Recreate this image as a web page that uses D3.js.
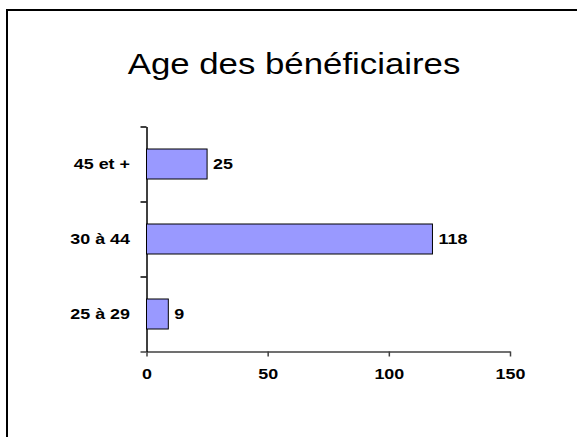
<!DOCTYPE html>
<html>
<head>
<meta charset="utf-8">
<script src="https://cdn.jsdelivr.net/npm/d3@7"></script>
<style>
  body { margin: 0; background: #fff; }
  text { font-family: "Liberation Sans", Arial, sans-serif; }
</style>
</head>
<body>
<div id="chart"></div>
<script>
var categories = ["45 et +", "30 à 44", "25 à 29"];
var values = [25, 118, 9];
var xTicks = [0, 50, 100, 150];
var title = "Age des bénéficiaires";

var margin = { left: 146.5, right: 67, top: 126.5, bottom: 85.5 };
var width = 577 - margin.left - margin.right;
var height = 437 - margin.top - margin.bottom;
var stretch = 1.2;
var labelStretch = 1.28;

var svg = d3.select("#chart")
  .append("svg")
  .attr("width", 577)
  .attr("height", 437);

svg.append("rect")
  .attr("width", 577)
  .attr("height", 437)
  .attr("fill", "#fff");

// outer frame, runs off the right and bottom edges
svg.append("rect")
  .attr("x", 7)
  .attr("y", 10)
  .attr("width", 620)
  .attr("height", 480)
  .attr("fill", "none")
  .attr("stroke", "#000")
  .attr("stroke-width", 2);

svg.append("text")
  .attr("text-anchor", "middle")
  .attr("font-size", "29px")
  .attr("transform", "translate(294, 74) scale(" + stretch + ", 1)")
  .text(title);

var g = svg.append("g")
  .attr("transform", "translate(" + margin.left + ", " + margin.top + ")");

var x = d3.scaleLinear()
  .domain([0, 150])
  .range([0, width]);

var y = d3.scaleBand()
  .domain(categories)
  .range([0, height])
  .paddingInner(0.6)
  .paddingOuter(0.3);

// ticks between categories
var yEdges = d3.scaleLinear()
  .domain([0, categories.length])
  .range([0, height]);

// X-Axis
var xAxis = g.append("g")
  .attr("transform", "translate(0, " + height + ")")
  .call(d3.axisBottom(x).tickValues(xTicks).tickSize(5).tickSizeOuter(0));

xAxis.select(".domain").attr("stroke", "#404040").attr("stroke-width", 1.5);
xAxis.selectAll(".tick line").attr("stroke", "#404040").attr("stroke-width", 1.5);
xAxis.selectAll(".tick text")
  .attr("y", 0)
  .attr("dy", null)
  .attr("font-size", "14px")
  .attr("font-weight", "bold")
  .attr("fill", "#000")
  .attr("transform", "translate(0, 27.5) scale(" + labelStretch + ", 1)");

// Y-Axis
var yAxis = g.append("g")
  .call(d3.axisLeft(yEdges).tickValues(d3.range(categories.length + 1)).tickFormat("").tickSize(6).tickSizeOuter(0));

yAxis.select(".domain").attr("stroke", "#000").attr("stroke-width", 1.5);
yAxis.selectAll(".tick line").attr("stroke", "#000").attr("stroke-width", 1.5);
yAxis.selectAll(".tick").filter(function (d) { return d === categories.length; })
  .select("line").attr("stroke", "#404040");

// category labels
g.selectAll(".cat-label")
  .data(categories)
  .enter()
  .append("text")
  .attr("class", "cat-label")
  .attr("text-anchor", "end")
  .attr("font-size", "14px")
  .attr("font-weight", "bold")
  .attr("transform", function (d) {
    return "translate(-16.5, " + (y(d) + y.bandwidth() / 2 + 5) + ") scale(" + labelStretch + ", 1)";
  })
  .text(function (d) { return d; });

// Bars
g.selectAll(".bar")
  .data(values)
  .enter()
  .append("rect")
  .attr("class", "bar")
  .attr("x", x(0))
  .attr("y", function (d, i) { return y(categories[i]); })
  .attr("width", function (d) { return x(d) - x(0); })
  .attr("height", y.bandwidth())
  .attr("fill", "#9999ff")
  .attr("stroke", "#000")
  .attr("stroke-width", 1);

// value labels
g.selectAll(".val-label")
  .data(values)
  .enter()
  .append("text")
  .attr("class", "val-label")
  .attr("font-size", "14px")
  .attr("font-weight", "bold")
  .attr("transform", function (d, i) {
    return "translate(" + (x(d) + 6) + ", " + (y(categories[i]) + y.bandwidth() / 2 + 5) + ") scale(" + labelStretch + ", 1)";
  })
  .text(function (d) { return d; });
</script>
</body>
</html>
